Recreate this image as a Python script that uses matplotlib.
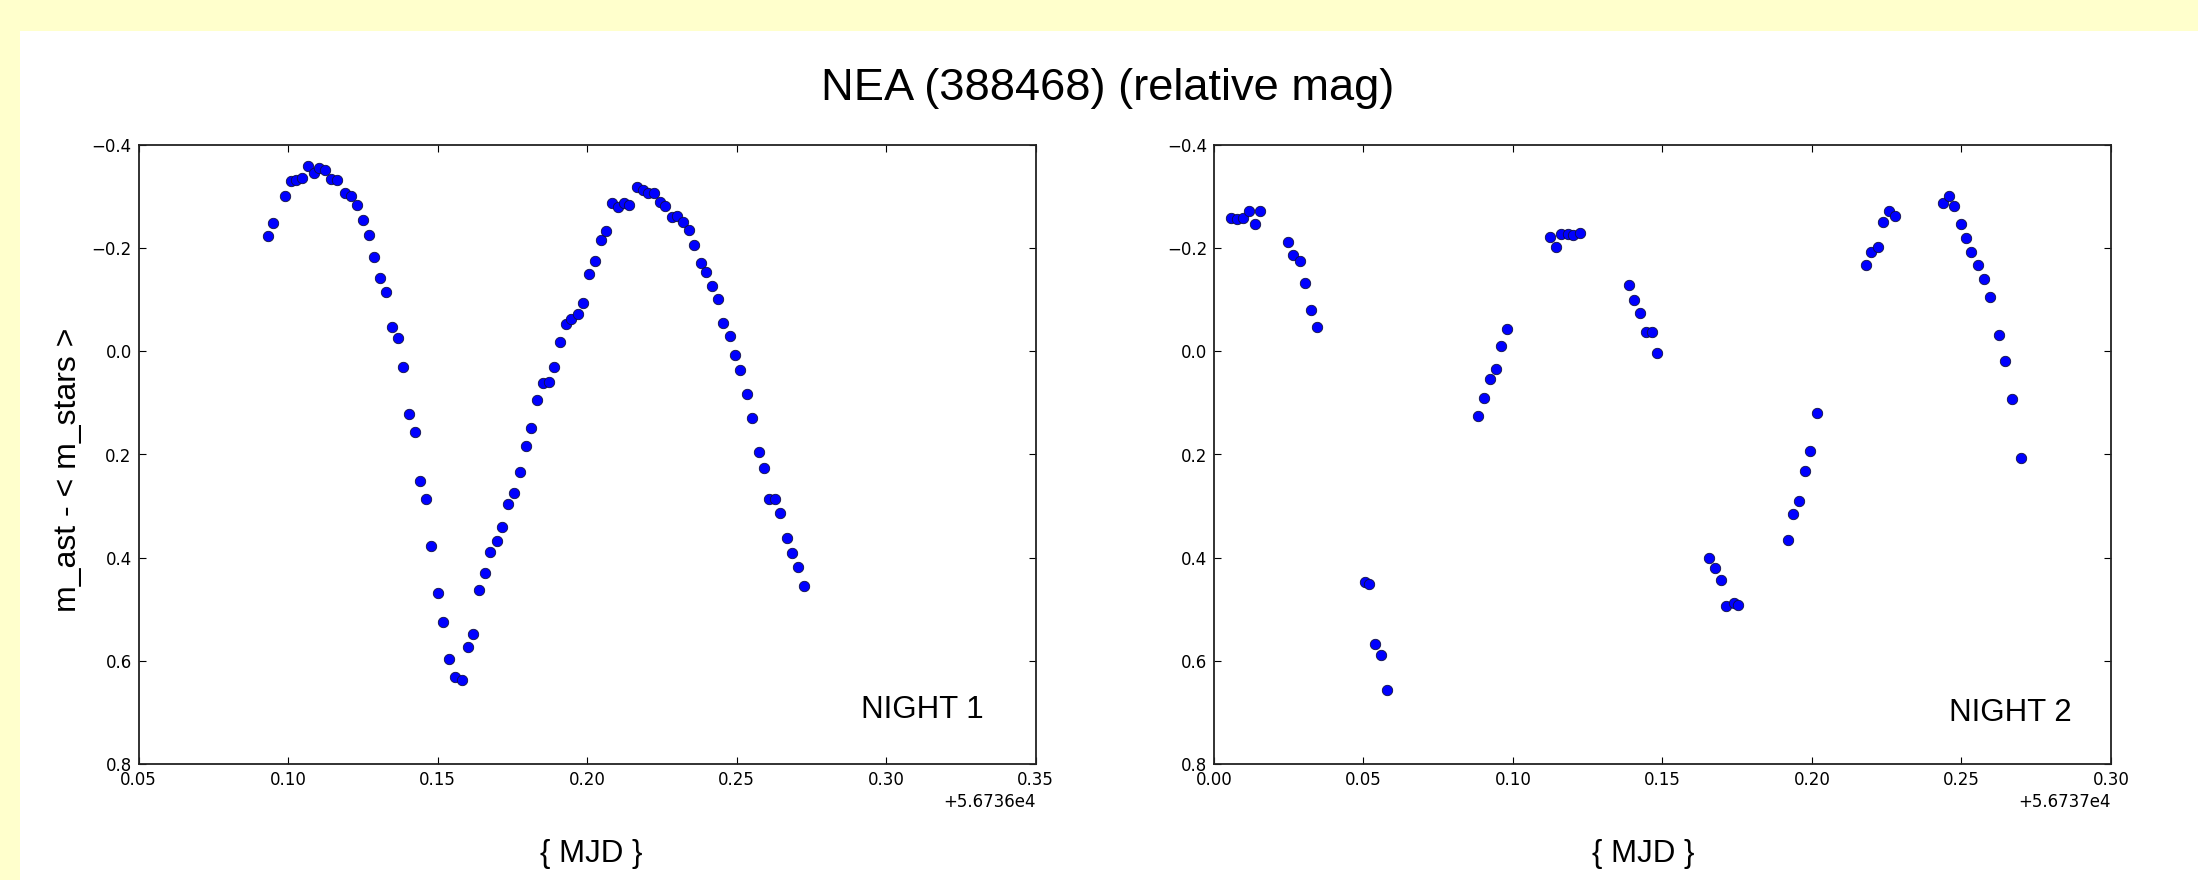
"""
Relative light curve of NEA (388468) over two nights, side by side.
"""

import numpy as np
import matplotlib

matplotlib.use("Agg")
import matplotlib.pyplot as plt
from matplotlib.patches import Rectangle
from matplotlib.ticker import MultipleLocator


## DATA ##
# --------------------------------------------------------------------------- #

TITLE = "NEA (388468) (relative mag)"
Y_LABEL = "m_ast - < m_stars >"
X_LABEL = "{ MJD }"
NIGHT_LABELS = ["NIGHT 1", "NIGHT 2"]

# integer MJD of each night, the fractions below are added to it
NIGHT1_MJD0 = 56736
NIGHT2_MJD0 = 56737

night1_frac = [
    0.0932, 0.0950, 0.0988, 0.1010, 0.1027, 0.1045, 0.1068, 0.1086, 0.1104,
    0.1124, 0.1143, 0.1164, 0.1189, 0.1210, 0.1229, 0.1251, 0.1269, 0.1287,
    0.1309, 0.1326, 0.1348, 0.1366, 0.1383, 0.1406, 0.1423, 0.1441, 0.1462,
    0.1477, 0.1500, 0.1518, 0.1537, 0.1557, 0.1580, 0.1600, 0.1619, 0.1637,
    0.1658, 0.1676, 0.1699, 0.1715, 0.1736, 0.1756, 0.1775, 0.1794, 0.1814,
    0.1831, 0.1852, 0.1871, 0.1889, 0.1910, 0.1928, 0.1947, 0.1968, 0.1986,
    0.2007, 0.2025, 0.2047, 0.2064, 0.2082, 0.2103, 0.2122, 0.2141, 0.2168,
    0.2186, 0.2204, 0.2225, 0.2243, 0.2261, 0.2283, 0.2301, 0.2322, 0.2341,
    0.2359, 0.2381, 0.2398, 0.2419, 0.2438, 0.2456, 0.2477, 0.2495, 0.2513,
    0.2535, 0.2552, 0.2574, 0.2591, 0.2609, 0.2630, 0.2645, 0.2668, 0.2686,
    0.2704, 0.2725,
]
night1_mag = [
    -0.224, -0.249, -0.302, -0.331, -0.333, -0.336, -0.359, -0.346, -0.355,
    -0.351, -0.335, -0.332, -0.307, -0.301, -0.284, -0.255, -0.226, -0.182,
    -0.142, -0.115, -0.047, -0.026, 0.030, 0.122, 0.157, 0.251, 0.287,
    0.378, 0.468, 0.525, 0.597, 0.631, 0.638, 0.573, 0.548, 0.463,
    0.430, 0.389, 0.367, 0.340, 0.295, 0.275, 0.233, 0.184, 0.149,
    0.095, 0.062, 0.060, 0.030, -0.019, -0.053, -0.063, -0.072, -0.094,
    -0.149, -0.175, -0.215, -0.234, -0.288, -0.280, -0.287, -0.283, -0.318,
    -0.312, -0.307, -0.306, -0.289, -0.282, -0.260, -0.263, -0.251, -0.236,
    -0.207, -0.172, -0.153, -0.126, -0.101, -0.055, -0.030, 0.008, 0.037,
    0.082, 0.130, 0.196, 0.227, 0.287, 0.287, 0.314, 0.362, 0.391,
    0.418, 0.454,
]

night2_frac = [
    0.0056, 0.0076, 0.0097, 0.0118, 0.0136, 0.0155, 0.0248, 0.0265, 0.0287,
    0.0305, 0.0326, 0.0344, 0.0504, 0.0520, 0.0539, 0.0560, 0.0578, 0.0883,
    0.0904, 0.0922, 0.0943, 0.0961, 0.0979, 0.1125, 0.1143, 0.1162, 0.1183,
    0.1201, 0.1225, 0.1388, 0.1406, 0.1424, 0.1444, 0.1464, 0.1480, 0.1656,
    0.1677, 0.1696, 0.1714, 0.1738, 0.1752, 0.1920, 0.1937, 0.1958, 0.1976,
    0.1994, 0.2016, 0.2179, 0.2197, 0.2220, 0.2237, 0.2259, 0.2277, 0.2437,
    0.2459, 0.2476, 0.2499, 0.2516, 0.2533, 0.2556, 0.2574, 0.2595, 0.2624,
    0.2646, 0.2670, 0.2699,
]
night2_mag = [
    -0.259, -0.257, -0.259, -0.272, -0.246, -0.272, -0.211, -0.186, -0.176,
    -0.132, -0.080, -0.047, 0.448, 0.451, 0.567, 0.589, 0.657, 0.126,
    0.091, 0.053, 0.034, -0.011, -0.043, -0.222, -0.203, -0.228, -0.228,
    -0.225, -0.230, -0.128, -0.099, -0.074, -0.038, -0.038, 0.003, 0.400,
    0.420, 0.443, 0.494, 0.488, 0.491, 0.365, 0.316, 0.291, 0.232,
    0.193, 0.120, -0.168, -0.192, -0.203, -0.251, -0.272, -0.263, -0.287,
    -0.301, -0.281, -0.247, -0.219, -0.192, -0.168, -0.140, -0.105, -0.032,
    0.019, 0.093, 0.207,
]

# --------------------------------------------------------------------------- #

FIG_W, FIG_H = 2198, 880
DPI = 100
SLIDE_YELLOW = "#FFFFCC"
LABEL_FONT = ["Liberation Sans", "DejaVu Sans"]
TICK_FONT = ["DejaVu Sans"]


def px_x(px):
    return px / FIG_W


def px_y(py):
    return 1 - py / FIG_H


def style_axes(ax, x0, x1):
    ax.set_xlim(x0, x1)
    ax.set_ylim(0.8, -0.4)
    ax.xaxis.set_major_locator(MultipleLocator(0.05))
    ax.yaxis.set_major_locator(MultipleLocator(0.2))
    ax.tick_params(direction="in", top=True, right=True, length=5, width=0.8,
                   pad=5, labelsize=12, colors="black")
    for spine in ax.spines.values():
        spine.set_linewidth(1.3)
        spine.set_color("#222222")
    ax.xaxis.get_offset_text().set_fontsize(12)
    ax.set_facecolor("white")


def plot_night(ax, mjd0, frac, mag, label, label_x, label_y, x_range):
    mjd = mjd0 + np.asarray(frac)
    ax.plot(mjd, mag, "o", color="#0000FF", markersize=7.5,
            markeredgecolor="#101040", markeredgewidth=0.6, linestyle="none")
    style_axes(ax, mjd0 + x_range[0], mjd0 + x_range[1])
    ax.text(label_x, label_y, label, transform=ax.transAxes, ha="right",
            va="baseline", fontsize=22.5, family=LABEL_FONT)


def main():
    plt.rcParams["font.family"] = TICK_FONT
    fig = plt.figure(figsize=(FIG_W / DPI, FIG_H / DPI), dpi=DPI)
    fig.patch.set_facecolor(SLIDE_YELLOW)
    # white slide panel below the yellow band, kept behind the axes
    fig.patches.append(Rectangle((px_x(20), 0), 1 - px_x(20), px_y(31),
                                 transform=fig.transFigure, facecolor="white",
                                 edgecolor="none", zorder=-10))

    ax_w, ax_h = 897 / FIG_W, 619 / FIG_H
    bottom = px_y(764)
    ax1 = fig.add_axes([px_x(138.6), bottom, ax_w, ax_h])
    ax2 = fig.add_axes([px_x(1214), bottom, ax_w, ax_h])

    plot_night(ax1, NIGHT1_MJD0, night1_frac, night1_mag, NIGHT_LABELS[0],
               0.9425, 0.074, (0.05, 0.35))
    plot_night(ax2, NIGHT2_MJD0, night2_frac, night2_mag, NIGHT_LABELS[1],
               0.9565, 0.070, (0.00, 0.30))

    fig.text(px_x(1108), px_y(100), TITLE, ha="center", va="baseline",
             fontsize=32.6, family=LABEL_FONT)
    fig.text(px_x(68), px_y(470), Y_LABEL, ha="center", va="center",
             rotation=90, fontsize=23, family=LABEL_FONT)
    fig.text(px_x(591), px_y(862), X_LABEL, ha="center", va="baseline",
             fontsize=22.5, family=LABEL_FONT)
    fig.text(px_x(1643), px_y(862), X_LABEL, ha="center", va="baseline",
             fontsize=22.5, family=LABEL_FONT)

    fig.savefig("out.png", dpi=DPI, facecolor=fig.get_facecolor())


if __name__ == "__main__":
    main()
